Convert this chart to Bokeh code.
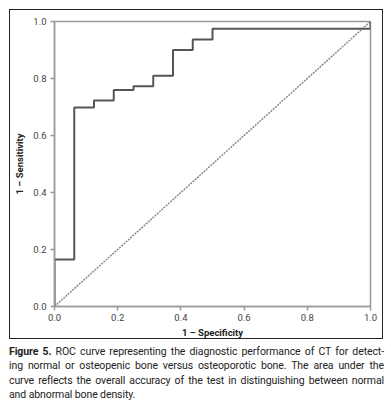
from bokeh.plotting import figure
from bokeh.layouts import column
from bokeh.models import Div, FixedTicker, Range1d, PrintfTickFormatter
from bokeh.embed import file_html
from bokeh.resources import INLINE

# ROC curve data (step points)
fpr = [0.0, 0.0, 0.0625, 0.0625, 0.125, 0.125, 0.1875, 0.1875, 0.25, 0.25,
       0.3125, 0.3125, 0.375, 0.375, 0.4375, 0.4375, 0.5, 0.5, 1.0, 1.0]
tpr = [0.0, 0.165, 0.165, 0.698, 0.698, 0.723, 0.723, 0.760, 0.760, 0.773,
       0.773, 0.810, 0.810, 0.900, 0.900, 0.937, 0.937, 0.975, 0.975, 1.0]
ref_x = [0.0, 1.0]
ref_y = [0.0, 1.0]
ticks = [0.0, 0.2, 0.4, 0.6, 0.8, 1.0]

x_label = "1 \u2013 Specificity"
y_label = "1 \u2013 Sensitivity"
caption_bold = "Figure 5."
caption_lines = [
    "ROC curve representing the diagnostic performance of CT for detect-",
    "ing normal or osteopenic bone versus osteoporotic bone. The area under the",
    "curve reflects the overall accuracy of the test in distinguishing between normal",
    "and abnormal bone density.",
]

FONT = "Roboto"
AXIS_GRAY = "#9a9a9a"

p = figure(width=374, height=330, output_backend="svg", toolbar_location=None,
           x_range=Range1d(0, 1), y_range=Range1d(0, 1),
           min_border_left=44, min_border_right=14, min_border_top=11, min_border_bottom=32,
           margin=(9, 0, 0, 9), styles={"border": "1px solid #222222"})
p.background_fill_color = "white"
p.border_fill_color = "white"
p.outline_line_color = AXIS_GRAY
p.outline_line_width = 1.5
p.grid.visible = False

for ax in (p.xaxis[0], p.yaxis[0]):
    ax.ticker = FixedTicker(ticks=ticks)
    ax.formatter = PrintfTickFormatter(format="%.1f")
    ax.axis_line_color = AXIS_GRAY
    ax.axis_line_width = 1.5
    ax.major_tick_line_color = AXIS_GRAY
    ax.major_tick_line_width = 1.5
    ax.major_tick_out = 4
    ax.major_tick_in = 0
    ax.minor_tick_line_color = None
    ax.major_label_text_font = FONT
    ax.major_label_text_font_size = "9.5px"
    ax.major_label_text_color = "#444444"
    ax.axis_label_text_font = FONT
    ax.axis_label_text_font_size = "9.5px"
    ax.axis_label_text_font_style = "bold"
    ax.axis_label_text_color = "#222222"

p.xaxis[0].axis_label = x_label
p.xaxis[0].major_label_standoff = 3
p.xaxis[0].axis_label_standoff = 3
p.yaxis[0].axis_label = y_label
p.yaxis[0].major_label_standoff = 4
p.yaxis[0].axis_label_standoff = 5

p.line(ref_x, ref_y, line_color="#8a8a8a", line_width=1.5, line_dash="2 1")
p.line(fpr, tpr, line_color="#555555", line_width=2)

# caption (justified lines as in the reference)
justified = "width: 375px; text-align: justify; text-align-last: justify;"
html_lines = []
for i, line in enumerate(caption_lines):
    txt = (f"<b>{caption_bold}</b> " + line) if i == 0 else line
    style = justified if i < len(caption_lines) - 1 else "width: 375px; text-align: left;"
    html_lines.append(f'<div style="{style}">{txt}</div>')

caption = Div(text="".join(html_lines), width=376, height=57, margin=(6, 0, 0, 9),
              styles={"font-family": FONT, "font-size": "10.5px", "line-height": "14.4px",
                      "letter-spacing": "-0.1px", "color": "#222222"})

layout = column(p, caption, spacing=0)
open("out.html", "w").write(file_html(layout, INLINE))
